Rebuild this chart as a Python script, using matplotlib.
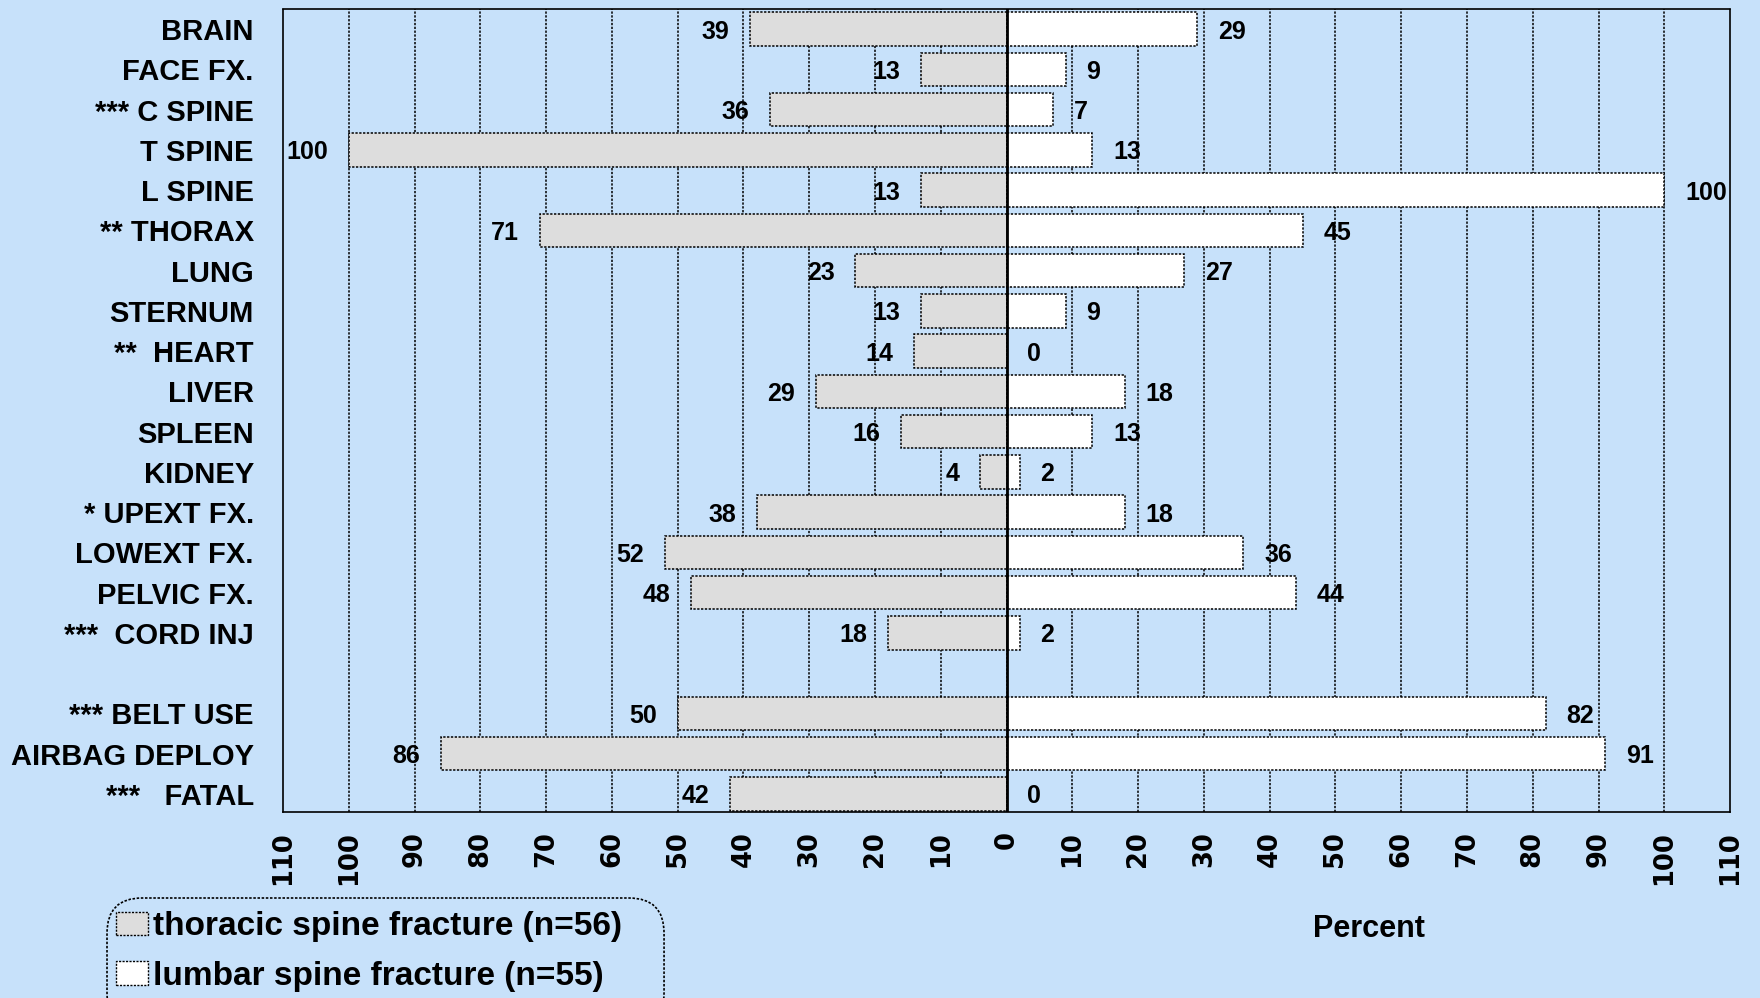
import matplotlib
matplotlib.use("Agg")
import matplotlib.pyplot as plt
from matplotlib.patches import Patch, FancyBboxPatch

plt.rcParams["font.family"] = ["Liberation Sans", "DejaVu Sans"]
plt.rcParams["font.weight"] = "bold"

categories = [
    "BRAIN", "FACE FX.", "*** C SPINE", "T SPINE", "L SPINE", "** THORAX",
    "LUNG", "STERNUM", "**  HEART", "LIVER", "SPLEEN", "KIDNEY",
    "* UPEXT FX.", "LOWEXT FX.", "PELVIC FX.", "***  CORD INJ",
    "*** BELT USE", "AIRBAG DEPLOY", "***   FATAL",
]
thoracic = [39, 13, 36, 100, 13, 71, 23, 13, 14, 29, 16, 4, 38, 52, 48, 18, 50, 86, 42]
lumbar = [29, 9, 7, 13, 100, 45, 27, 9, 0, 18, 13, 2, 18, 36, 44, 2, 82, 91, 0]
# an empty slot separates the injury rows from the last three rows
rows = list(range(16)) + [17, 18, 19]

ticks = list(range(-110, 111, 10))
tick_labels = [str(abs(t)) for t in ticks]

bg = "#C7E1FA"
dotted = (0, (1.5, 1))

fig = plt.figure(figsize=(17.6, 9.98), dpi=100, facecolor=bg)
ax = fig.add_axes([0.1608, 0.1864, 0.8222, 0.8046], facecolor=bg)

for t in ticks[1:-1]:
    ax.axvline(t, color="black", linewidth=1.1, linestyle=dotted, zorder=1)

ax.barh(rows, [-v for v in thoracic], height=0.83, color="#DDDDDD",
        edgecolor="black", linewidth=1.1, linestyle=dotted, zorder=2)
ax.barh(rows, lumbar, height=0.83, color="white",
        edgecolor="black", linewidth=1.1, linestyle=dotted, zorder=2)
ax.axvline(0, color="black", linewidth=2, zorder=3)

for y, v in zip(rows, thoracic):
    ax.annotate(str(v), (-v, y), xytext=(-15, 0), textcoords="offset points",
                ha="right", va="center_baseline", fontsize=18, fontweight="bold", zorder=4)
for y, v in zip(rows, lumbar):
    ax.annotate(str(v), (v, y), xytext=(15, 0), textcoords="offset points",
                ha="left", va="center_baseline", fontsize=18, fontweight="bold", zorder=4)

ax.set_xlim(-110, 110)
ax.set_ylim(19.45, -0.5)
ax.set_xticks(ticks)
# wide bold digits for the percent scale
ax.set_xticklabels(tick_labels, rotation=90, fontsize=18.5, fontweight="bold",
                   family="DejaVu Sans")
ax.set_yticks(rows)
ax.set_yticklabels(categories, fontsize=21, fontweight="bold")
ax.tick_params(axis="x", length=0, pad=14)
ax.tick_params(axis="y", length=0, pad=21)
for s in ax.spines.values():
    s.set_color("black")
    s.set_linewidth(1.2)
    s.set_linestyle(dotted)

fig.text(0.778, 0.069, "Percent", ha="center", va="center",
         fontsize=22, fontweight="bold")

# legend box runs past the bottom edge of the figure
box = FancyBboxPatch((0.0608, -0.03), 0.3165, 0.1302,
                     boxstyle="round,pad=0,rounding_size=0.02",
                     transform=fig.transFigure, facecolor=bg, edgecolor="black",
                     linewidth=1.2, linestyle=dotted, mutation_aspect=1.76)
fig.patches.append(box)

handles = [
    Patch(facecolor="#DDDDDD", edgecolor="black", linewidth=1, linestyle=dotted,
          label="thoracic spine fracture (n=56)"),
    Patch(facecolor="white", edgecolor="black", linewidth=1, linestyle=dotted,
          label="lumbar spine fracture (n=55)"),
]
fig.legend(handles=handles, loc="upper left", bbox_to_anchor=(0.066, 0.087),
           frameon=False, prop={"size": 24, "weight": "bold"}, handlelength=0.95,
           handleheight=0.7, handletextpad=0.15, labelspacing=0.55,
           borderpad=0.0, borderaxespad=0)

fig.savefig("out.png", dpi=100, facecolor=bg)
